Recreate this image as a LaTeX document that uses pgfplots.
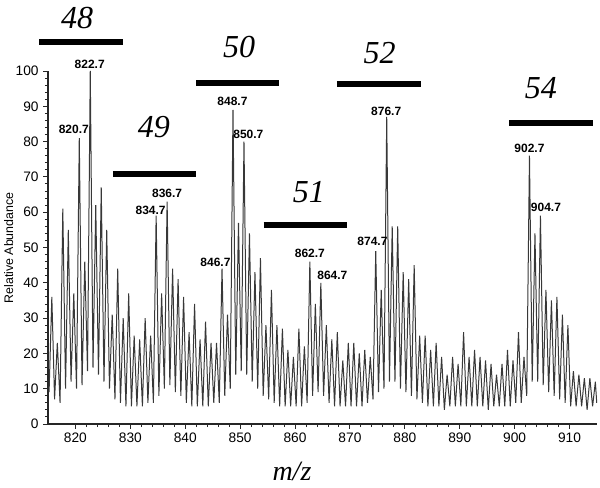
\documentclass[border=0pt]{standalone}
\usepackage{pgfplots}
\pgfplotsset{compat=1.18}
\usepackage{fontspec}
\setmainfont{Liberation Sans}
\newfontfamily\timesfont{Liberation Serif}
\begin{document}
\begin{tikzpicture}
\begin{axis}[
 scale only axis, width=411.75pt, height=264.75pt,
 xmin=815, xmax=915, ymin=0, ymax=100,
 axis x line*=bottom, axis y line*=left,
 axis line style={line width=0.9pt, black!85},
 tick align=outside,
 xtick={820,830,...,910}, ytick={0,10,...,100},
 minor x tick num=4, minor y tick num=4,
 major tick length=3.5pt, minor tick length=2.4pt,
 every tick/.style={black!85, line width=0.7pt},
 tick label style={font=\fontsize{10.3}{11}\selectfont},
 /pgf/number format/assume math mode=true,
 /pgf/number format/1000 sep={},
 clip=false,
]
\addplot[black!78, line width=0.75pt, line join=miter, miter limit=3] coordinates {
(815.2,9)(815.7,36)(816.2,7)(816.7,23)(817.2,6)(817.7,61)(818.2,10)(818.7,55)(819.2,12)(819.7,37)
(820.2,10)(820.7,81)(821.2,11)(821.7,46)(822.2,15)(822.7,100)(823.2,16)(823.7,62)(824.2,14)(824.7,67)
(825.2,12)(825.7,55)(826.2,10)(826.7,31)(827.2,7)(827.7,44)(828.2,6)(828.7,30)(829.2,5)(829.7,37)
(830.2,5)(830.7,25)(831.2,5)(831.7,24)(832.2,5)(832.7,30)(833.2,6)(833.7,25)(834.2,6)(834.7,59)
(835.2,8)(835.7,37)(836.2,10)(836.7,63)(837.2,11)(837.7,44)(838.2,9)(838.7,41)(839.2,8)(839.7,36)
(840.2,6)(840.7,26)(841.2,5)(841.7,34)(842.2,5)(842.7,24)(843.2,5)(843.7,29)(844.2,5)(844.7,23)
(845.2,6)(845.7,23)(846.2,6)(846.7,44)(847.2,8)(847.7,31)(848.2,10)(848.7,89)(849.2,14)(849.7,57)
(850.2,15)(850.7,80)(851.2,14)(851.7,54)(852.2,12)(852.7,43)(853.2,10)(853.7,47)(854.2,8)(854.7,28)
(855.2,7)(855.7,38)(856.2,6)(856.7,28)(857.2,5)(857.7,27)(858.2,5)(858.7,21)(859.2,5)(859.7,19)
(860.2,5)(860.7,27)(861.2,5)(861.7,22)(862.2,6)(862.7,46)(863.2,8)(863.7,34)(864.2,9)(864.7,40)
(865.2,8)(865.7,28)(866.2,6)(866.7,24)(867.2,5)(867.7,26)(868.2,5)(868.7,18)(869.2,5)(869.7,23)
(870.2,5)(870.7,23)(871.2,5)(871.7,20)(872.2,5)(872.7,21)(873.2,6)(873.7,19)(874.2,7)(874.7,49)
(875.2,9)(875.7,38)(876.2,10)(876.7,87)(877.2,12)(877.7,56)(878.2,12)(878.7,56)(879.2,10)(879.7,43)
(880.2,9)(880.7,41)(881.2,8)(881.7,45)(882.2,7)(882.7,25)(883.2,6)(883.7,25)(884.2,5)(884.7,21)
(885.2,5)(885.7,23)(886.2,5)(886.7,19)(887.2,4)(887.7,14)(888.2,5)(888.7,19)(889.2,5)(889.7,17)
(890.2,5)(890.7,26)(891.2,5)(891.7,19)(892.2,5)(892.7,21)(893.2,5)(893.7,19)(894.2,5)(894.7,18)
(895.2,4)(895.7,17)(896.2,5)(896.7,14)(897.2,5)(897.7,17)(898.2,5)(898.7,21)(899.2,5)(899.7,18)
(900.2,6)(900.7,26)(901.2,6)(901.7,19)(902.2,8)(902.7,76)(903.2,12)(903.7,54)(904.2,12)(904.7,59)
(905.2,11)(905.7,38)(906.2,9)(906.7,35)(907.2,8)(907.7,36)(908.2,7)(908.7,31)(909.2,6)(909.7,28)
(910.2,5)(910.7,15)(911.2,5)(911.7,14)(912.2,5)(912.7,13)(913.2,4)(913.7,13)(914.2,5)(914.7,12)(914.95,6)
};
% group bars
\addplot[black, line width=4.5pt] coordinates {(813.4,108.2) (828.7,108.2)};
\addplot[black, line width=4.5pt] coordinates {(826.8,70.7) (842.0,70.7)};
\addplot[black, line width=4.5pt] coordinates {(842.0,96.6) (857.1,96.6)};
\addplot[black, line width=4.5pt] coordinates {(854.3,56.5) (869.5,56.5)};
\addplot[black, line width=4.5pt] coordinates {(867.6,96.3) (882.9,96.3)};
\addplot[black, line width=4.5pt] coordinates {(899.0,85.3) (914.3,85.3)};
% group labels
\begin{scope}[every node/.style={font=\timesfont\itshape\fontsize{24}{26}\selectfont, inner sep=0pt}]
\node at (axis cs:820.3,115.0) {48};
\node at (axis cs:834.3,84.0) {49};
\node at (axis cs:849.8,106.9) {50};
\node at (axis cs:862.5,65.6) {51};
\node at (axis cs:875.4,105.2) {52};
\node at (axis cs:904.8,95.2) {54};
\end{scope}
% peak labels
\begin{scope}[every node/.style={font=\bfseries\fontsize{9}{10}\selectfont, inner sep=0pt}]
\node at (axis cs:822.6,102.0) {822.7};
\node at (axis cs:819.7,83.5) {820.7};
\node at (axis cs:833.7,60.6) {834.7};
\node at (axis cs:836.7,65.2) {836.7};
\node at (axis cs:845.5,45.9) {846.7};
\node at (axis cs:848.6,91.4) {848.7};
\node at (axis cs:851.5,82.0) {850.7};
\node at (axis cs:862.7,48.4) {862.7};
\node at (axis cs:866.8,42.1) {864.7};
\node at (axis cs:874.1,51.6) {874.7};
\node at (axis cs:876.6,88.7) {876.7};
\node at (axis cs:902.7,78.1) {902.7};
\node at (axis cs:905.7,61.3) {904.7};
\end{scope}
\node[rotate=90, font=\fontsize{9.3}{10}\selectfont] at (rel axis cs:-0.0716,0.4986) {Relative Abundance};
\node[font=\timesfont\itshape\fontsize{21}{24}\selectfont] at (rel axis cs:0.4444,-0.1331) {m/z};
\coordinate (bbll) at (rel axis cs:-0.0874,-0.1785);
\coordinate (bbur) at (rel axis cs:1.00546,1.2011);
\end{axis}
\pgfresetboundingbox
\path (bbll) rectangle (bbur);
\end{tikzpicture}
\end{document}
